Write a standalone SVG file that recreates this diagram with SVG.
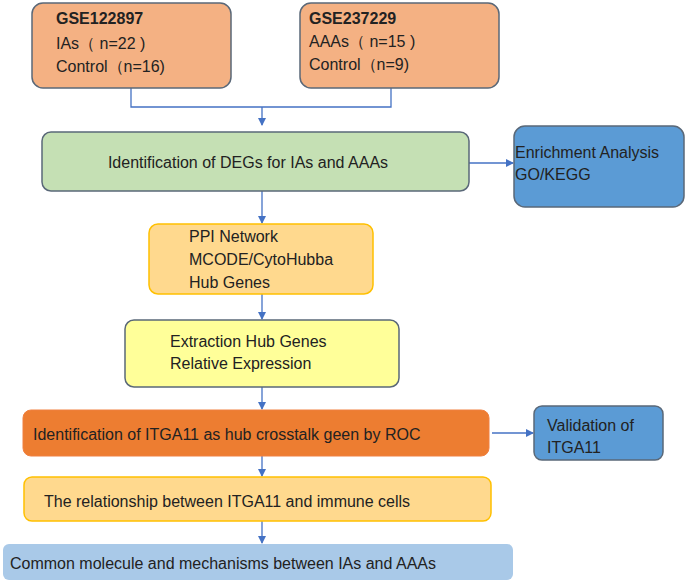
<svg xmlns="http://www.w3.org/2000/svg" width="685" height="582" viewBox="0 0 685 582">
<defs>
<marker id="ar" markerWidth="8" markerHeight="8" refX="7" refY="4" orient="auto" markerUnits="userSpaceOnUse"><path d="M0,0 L8,4 L0,8 z" fill="#4472C4"/></marker>
<style>
text{font-family:"Liberation Sans",Arial,sans-serif;font-size:16px;fill:#222}
.c{fill:none;stroke:#4472C4;stroke-width:1.3}
.d{stroke:#5a6878;stroke-width:1.5}
</style>
</defs>
<rect width="685" height="582" fill="#fff"/>
<g id="connectors">
<path class="c" d="M131,88 V107 H391 V88 M262,107 V125" marker-end="url(#ar)"/>
<path class="c" d="M262,125 V125"/>
<path class="c" d="M469,163 H513" marker-end="url(#ar)"/>
<path class="c" d="M262,191 V223" marker-end="url(#ar)"/>
<path class="c" d="M262,294 V319" marker-end="url(#ar)"/>
<path class="c" d="M262,387 V409" marker-end="url(#ar)"/>
<path class="c" d="M492,433 H533" marker-end="url(#ar)"/>
<path class="c" d="M262,456 V476" marker-end="url(#ar)"/>
<path class="c" d="M262,521 V543" marker-end="url(#ar)"/>
</g>
<g id="gse1"><rect class="d" x="32" y="3" width="199" height="85" rx="11" fill="#F4B183"/>
<text x="56" y="24" font-weight="bold">GSE122897</text><text x="56" y="49">IAs（ n=22 )</text><text x="56" y="72">Control（n=16)</text></g>
<g id="gse2"><rect class="d" x="300" y="3" width="199" height="85" rx="11" fill="#F4B183"/>
<text x="309" y="24" font-weight="bold">GSE237229</text><text x="309" y="47">AAAs（ n=15 )</text><text x="309" y="70">Control（n=9)</text></g>
<g id="degs"><rect class="d" x="42" y="132" width="427" height="59" rx="9" fill="#C5E0B4"/>
<text x="248" y="168" text-anchor="middle">Identification of DEGs for IAs and AAAs</text></g>
<g id="enrich"><rect class="d" x="514" y="126" width="170" height="81" rx="11" fill="#5B9BD5"/>
<text x="515" y="158">Enrichment Analysis</text><text x="515" y="180">GO/KEGG</text></g>
<g id="ppi"><rect x="149" y="224" width="224" height="70" rx="9" fill="#FFD98E" stroke="#FFC000" stroke-width="1.5"/>
<text x="189" y="242">PPI Network</text><text x="189" y="265">MCODE/CytoHubba</text><text x="189" y="288">Hub Genes</text></g>
<g id="extract"><rect class="d" x="125" y="320" width="274" height="67" rx="9" fill="#FFFF99"/>
<text x="170" y="347">Extraction Hub Genes</text><text x="170" y="369">Relative Expression</text></g>
<g id="itga"><rect x="23" y="410" width="466" height="46" rx="8" fill="#ED7D31" stroke="#F08040"/>
<text x="33" y="440">Identification of ITGA11 as hub crosstalk geen by ROC</text></g>
<g id="valid"><rect class="d" x="534" y="406" width="129" height="54" rx="8" fill="#5B9BD5"/>
<text x="547" y="431">Validation of</text><text x="547" y="453">ITGA11</text></g>
<g id="immune"><rect x="24" y="477" width="467" height="44" rx="8" fill="#FFD98E" stroke="#FFC000" stroke-width="1.5"/>
<text x="44" y="507">The relationship between ITGA11 and immune cells</text></g>
<g id="common"><rect x="3" y="544" width="510" height="36" rx="6" fill="#A9C9E8"/>
<text x="10" y="569">Common molecule and mechanisms between IAs and AAAs</text></g>
</svg>
